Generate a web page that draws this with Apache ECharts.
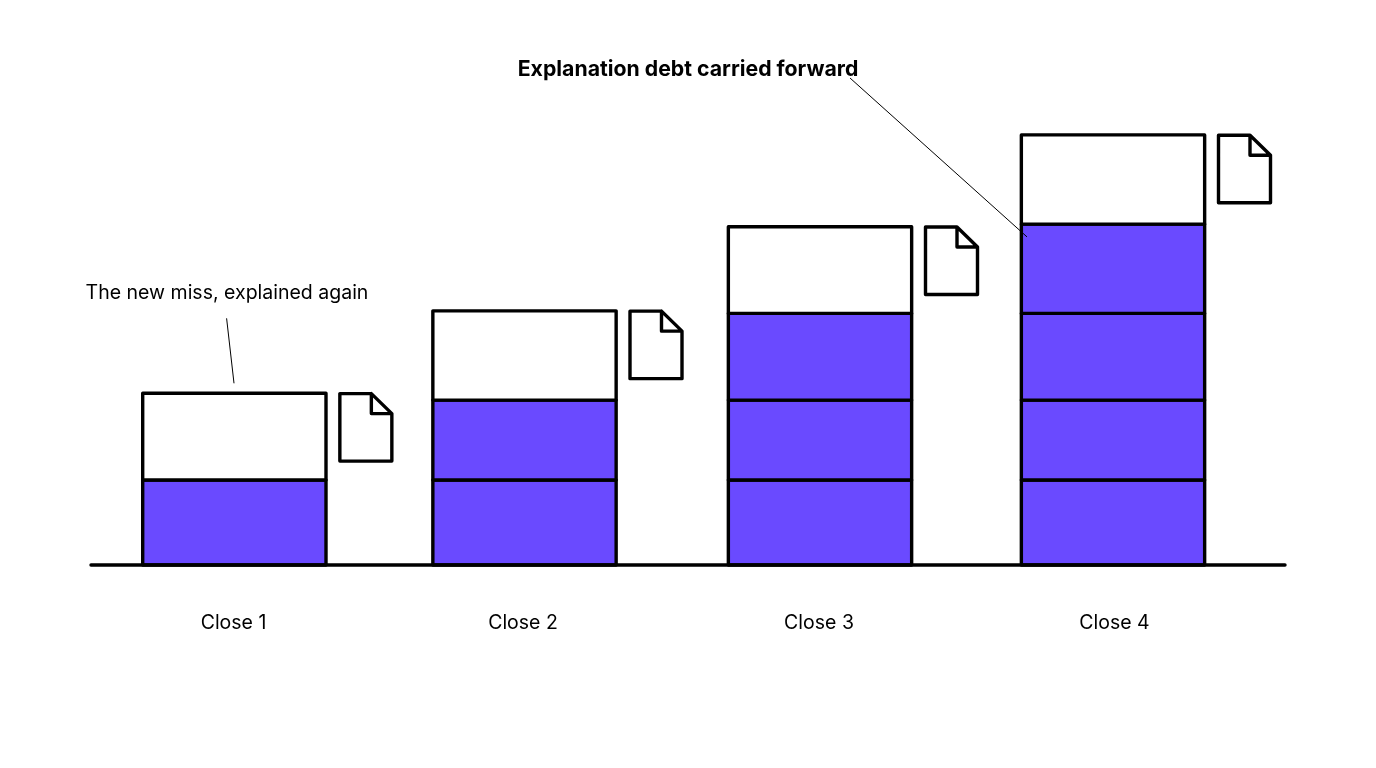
<!DOCTYPE html>
<html>
<head>
<meta charset="utf-8">
<style>html,body{margin:0;padding:0;background:#fff}#c{width:1376px;height:768px}</style>
<script src="https://cdn.jsdelivr.net/npm/echarts@6/dist/echarts.min.js"></script>
</head>
<body>
<div id="c"></div>
<script>
const categories = ["Close 1", "Close 2", "Close 3", "Close 4"];
const carriedLayer1 = [1.0, 1.0, 1.0, 1.0];
const carriedLayer2 = [null, 0.94, 0.94, 0.94];
const carriedLayer3 = [null, null, 1.02, 1.02];
const carriedLayer4 = [null, null, null, 1.05];
const newMiss = [1.02, 1.05, 1.02, 1.05];
const newMissNote = "The new miss, explained again";
const debtNote = "Explanation debt carried forward";

const FONT = "Inter, 'Noto Sans', sans-serif";
const INK = "#000";
const VIOLET = "#6a4aff";
const BAR_W = 183.3;
const STROKE = 3.4;
const columnNudge = [0.35, -2.5, 0, 0];   // hand-placed columns in the reference

const layers = [carriedLayer1, carriedLayer2, carriedLayer3, carriedLayer4, newMiss];
const stackTops = categories.map((_, i) => layers.reduce((sum, arr) => sum + (arr[i] || 0), 0));

function layerSeries(name, data, layerIndex, color) {
  const rows = [];
  data.forEach((v, i) => {
    if (v == null) return;
    const base = layers.slice(0, layerIndex).reduce((s, arr) => s + (arr[i] || 0), 0);
    rows.push([i, base, base + v]);
  });
  return {
    name, type: "custom", z: 3, silent: true, data: rows,
    encode: { x: 0, y: [1, 2] },
    renderItem(params, api) {
      const i = api.value(0);
      const lo = api.coord([i, api.value(1)]);
      const hi = api.coord([i, api.value(2)]);
      return { type: "rect",
        shape: { x: lo[0] + columnNudge[i] - BAR_W / 2, y: hi[1], width: BAR_W, height: lo[1] - hi[1] },
        style: { fill: color, stroke: INK, lineWidth: STROKE, lineJoin: "round" } };
    }
  };
}

const baseline = {
  type: "custom", name: "Baseline", z: 4, silent: true,
  data: [[0, 0]], encode: { x: 0, y: 1 },
  renderItem(params, api) {
    const y = api.coord([0, 0])[1];
    return { type: "line", shape: { x1: 91, y1: y, x2: 1285, y2: y },
      style: { stroke: INK, lineWidth: STROKE, lineCap: "round" } };
  }
};

const docIcons = {
  type: "custom", name: "Documents", z: 4, silent: true,
  data: categories.map((_, i) => [i, stackTops[i]]), encode: { x: 0, y: 1 },
  renderItem(params, api) {
    const i = api.value(0);
    const p = api.coord([i, api.value(1)]);
    const x = p[0] + columnNudge[i] + 105.5, y = p[1] + 0.3;
    return { type: "polyline", shape: { points: [
        [x + 31.5, y + 20], [x + 52, y + 20], [x + 31.5, y], [x + 31.5, y + 20], [x + 31.5, y],
        [x, y], [x, y + 67.5], [x + 52, y + 67.5], [x + 52, y + 20]
      ] },
      style: { stroke: INK, lineWidth: STROKE, lineJoin: "round", lineCap: "round", fill: null } };
  }
};

const notes = {
  type: "custom", name: "Notes", z: 5, silent: true,
  data: [[0, stackTops[0]], [3, stackTops[3] - 1.2]], encode: { x: 0, y: 1 },
  renderItem(params, api) {
    const p = api.coord([api.value(0), api.value(1)]);
    if (params.dataIndex === 0) {
      return { type: "group", children: [
        { type: "line", shape: { x1: p[0] - 7.4, y1: p[1] - 75, x2: p[0], y2: p[1] - 10 },
          style: { stroke: INK, lineWidth: 1 } },
        { type: "text", style: { x: p[0] - 7, y: p[1] - 100.5, text: newMissNote, fill: INK,
            font: "400 19.5px " + FONT, align: "center", verticalAlign: "middle" } }
      ] };
    }
    return { type: "group", children: [
      { type: "line", shape: { x1: 850, y1: 78, x2: p[0] - 86, y2: p[1] },
        style: { stroke: INK, lineWidth: 1 } },
      { type: "text", style: { x: 688, y: 70, text: debtNote, fill: INK,
          font: "700 21.25px " + FONT, align: "center", verticalAlign: "middle" } }
    ] };
  }
};

const labelStyle = { color: INK, fontFamily: FONT, fontSize: 19.5 };
const chart = echarts.init(document.getElementById("c"), null, { renderer: "canvas" });
chart.setOption({
  animation: false,
  backgroundColor: "#fff",
  tooltip: { show: false },
  grid: { left: 87.5, width: 1172, top: 55, bottom: 203, containLabel: false },
  xAxis: {
    type: "category", data: categories,
    axisLine: { show: false }, axisTick: { show: false },
    axisLabel: {
      margin: 48, ...labelStyle,
      formatter: (value, index) => `{c${index}|${value}}`,
      rich: {
        c0: { ...labelStyle, padding: [0, 1, 0, 0] },
        c1: { ...labelStyle, padding: [0, 8, 0, 0] },
        c2: { ...labelStyle, padding: [0, 2, 0, 0] },
        c3: { ...labelStyle, padding: [0, 0, 0, 3] }
      }
    }
  },
  yAxis: { type: "value", min: 0, max: 6, show: false },
  series: [
    layerSeries("Carried 1", carriedLayer1, 0, VIOLET),
    layerSeries("Carried 2", carriedLayer2, 1, VIOLET),
    layerSeries("Carried 3", carriedLayer3, 2, VIOLET),
    layerSeries("Carried 4", carriedLayer4, 3, VIOLET),
    layerSeries("New miss", newMiss, 4, "#fff"),
    baseline,
    docIcons,
    notes
  ]
});
</script>
</body>
</html>
